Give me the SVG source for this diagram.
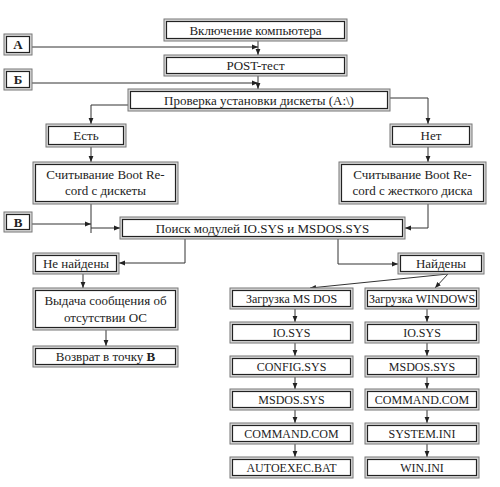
<svg xmlns="http://www.w3.org/2000/svg" width="500" height="487" viewBox="0 0 500 487">
<defs>
<marker id="ar" viewBox="0 0 8 8" refX="8" refY="4" markerWidth="6" markerHeight="6" orient="auto" markerUnits="userSpaceOnUse">
<path d="M0,0.8 L8,4 L0,7.2 Z" fill="#222"/>
</marker>
<style>
.o{fill:#dcdcdc;stroke:#777;stroke-width:1}
.i{fill:#fff;stroke:#222;stroke-width:1.2}
.t{font-family:'Liberation Serif','DejaVu Serif','Times New Roman',serif;font-size:13px;fill:#222;text-anchor:middle}
.s{font-size:12px}
.b{font-weight:bold}
.c{fill:none;stroke:#333;stroke-width:1}
.a{marker-end:url(#ar)}
</style>
</defs>
<rect width="500" height="487" fill="#fff"/>
<g id="connectors">
<path class="c a" d="M258,41 V55"/>
<path class="c a" d="M32,47 H258"/>
<path class="c a" d="M258,76 V89"/>
<path class="c a" d="M32,83 H258"/>
<path class="c a" d="M128,105 H91 V124"/>
<path class="c a" d="M390,98 H428 V124"/>
<path class="c a" d="M91,147 V162"/>
<path class="c a" d="M428,147 V162"/>
<path class="c" d="M91,204 V233"/>
<path class="c a" d="M32,224 H91"/>
<path class="c a" d="M91,228 H120"/>
<path class="c a" d="M428,204 V228 H405"/>
<path class="c a" d="M185,239 V263 H119"/>
<path class="c a" d="M338,239 V264 H398"/>
<path class="c a" d="M83,274 V288"/>
<path class="c a" d="M106,330 V346"/>
<path class="c a" d="M448,274 L310,288"/>
<path class="c a" d="M448,274 L435,288"/>
<path class="c a" d="M295,309 V322"/>
<path class="c a" d="M295,343 V356"/>
<path class="c a" d="M295,377 V389"/>
<path class="c a" d="M295,410 V423"/>
<path class="c a" d="M295,444 V457"/>
<path class="c a" d="M427,309 V322"/>
<path class="c a" d="M427,343 V356"/>
<path class="c a" d="M427,377 V389"/>
<path class="c a" d="M427,410 V423"/>
<path class="c a" d="M427,444 V457"/>
</g>
<g id="n-on"><rect class="o" x="164" y="19" width="183" height="22"/><rect class="i" x="166.5" y="21.5" width="178" height="17"/><text class="t" x="255.5" y="34.5">Включение компьютера</text></g>
<g id="n-post"><rect class="o" x="164" y="55" width="183" height="21"/><rect class="i" x="166.5" y="57.5" width="178" height="16"/><text class="t" x="255.5" y="70">POST-тест</text></g>
<g id="n-a"><rect class="o" x="4" y="34" width="28" height="21"/><rect class="i" x="6.5" y="36.5" width="23" height="16"/><text class="t b" x="18" y="49">А</text></g>
<g id="n-b"><rect class="o" x="4" y="69" width="28" height="21"/><rect class="i" x="6.5" y="71.5" width="23" height="16"/><text class="t b" x="18" y="84">Б</text></g>
<g id="n-check"><rect class="o" x="128" y="89" width="262" height="22"/><rect class="i" x="130.5" y="91.5" width="257" height="17"/><text class="t" x="259" y="104.5">Проверка установки дискеты (A:\)</text></g>
<g id="n-yes"><rect class="o" x="46" y="124" width="80" height="23"/><rect class="i" x="48.5" y="126.5" width="75" height="18"/><text class="t" x="86" y="140">Есть</text></g>
<g id="n-no"><rect class="o" x="390" y="124" width="82" height="23"/><rect class="i" x="392.5" y="126.5" width="77" height="18"/><text class="t" x="431" y="140">Нет</text></g>
<g id="n-readfd"><rect class="o" x="33" y="162" width="145" height="42"/><rect class="i" x="35.5" y="164.5" width="140" height="37"/><text class="t" x="105.5" y="179">Считывание Boot Re-</text><text class="t" x="105.5" y="195">cord с дискеты</text></g>
<g id="n-readhd"><rect class="o" x="339" y="162" width="147" height="42"/><rect class="i" x="341.5" y="164.5" width="142" height="37"/><text class="t" x="412.5" y="179">Считывание Boot Re-</text><text class="t" x="412.5" y="195">cord с жесткого диска</text></g>
<g id="n-v"><rect class="o" x="4" y="212" width="28" height="20"/><rect class="i" x="6.5" y="214.5" width="23" height="15"/><text class="t b" x="18" y="226.5">В</text></g>
<g id="n-search"><rect class="o" x="120" y="217" width="285" height="22"/><rect class="i" x="122.5" y="219.5" width="280" height="17"/><text class="t" x="262.5" y="232.5">Поиск модулей IO.SYS и MSDOS.SYS</text></g>
<g id="n-notfound"><rect class="o" x="33" y="253" width="86" height="21"/><rect class="i" x="35.5" y="255.5" width="81" height="16"/><text class="t" x="76" y="268">Не найдены</text></g>
<g id="n-found"><rect class="o" x="398" y="253" width="86" height="21"/><rect class="i" x="400.5" y="255.5" width="81" height="16"/><text class="t" x="441" y="268">Найдены</text></g>
<g id="n-msg"><rect class="o" x="33" y="288" width="145" height="42"/><rect class="i" x="35.5" y="290.5" width="140" height="37"/><text class="t" x="105.5" y="305">Выдача сообщения об</text><text class="t" x="105.5" y="322">отсутствии ОС</text></g>
<g id="n-return"><rect class="o" x="33" y="346" width="145" height="21"/><rect class="i" x="35.5" y="348.5" width="140" height="16"/><text class="t" x="105.5" y="361">Возврат в точку <tspan class="b">В</tspan></text></g>
<g id="n-dos"><rect class="o" x="230" y="288" width="123" height="21"/><rect class="i" x="232.5" y="290.5" width="118" height="16"/><text class="t s" x="291.5" y="303">Загрузка MS DOS</text></g>
<g id="n-dos-io"><rect class="o" x="230" y="322" width="123" height="21"/><rect class="i" x="232.5" y="324.5" width="118" height="16"/><text class="t s" x="291.5" y="337">IO.SYS</text></g>
<g id="n-dos-config"><rect class="o" x="230" y="356" width="123" height="21"/><rect class="i" x="232.5" y="358.5" width="118" height="16"/><text class="t s" x="291.5" y="371">CONFIG.SYS</text></g>
<g id="n-dos-msdos"><rect class="o" x="230" y="389" width="123" height="21"/><rect class="i" x="232.5" y="391.5" width="118" height="16"/><text class="t s" x="291.5" y="404">MSDOS.SYS</text></g>
<g id="n-dos-command"><rect class="o" x="230" y="423" width="123" height="21"/><rect class="i" x="232.5" y="425.5" width="118" height="16"/><text class="t s" x="291.5" y="438">COMMAND.COM</text></g>
<g id="n-dos-autoexec"><rect class="o" x="230" y="457" width="123" height="21"/><rect class="i" x="232.5" y="459.5" width="118" height="16"/><text class="t s" x="291.5" y="472">AUTOEXEC.BAT</text></g>
<g id="n-win"><rect class="o" x="365" y="288" width="114" height="21"/><rect class="i" x="367.5" y="290.5" width="109" height="16"/><text class="t s" x="422" y="303">Загрузка WINDOWS</text></g>
<g id="n-win-io"><rect class="o" x="365" y="322" width="114" height="21"/><rect class="i" x="367.5" y="324.5" width="109" height="16"/><text class="t s" x="422" y="337">IO.SYS</text></g>
<g id="n-win-msdos"><rect class="o" x="365" y="356" width="114" height="21"/><rect class="i" x="367.5" y="358.5" width="109" height="16"/><text class="t s" x="422" y="371">MSDOS.SYS</text></g>
<g id="n-win-command"><rect class="o" x="365" y="389" width="114" height="21"/><rect class="i" x="367.5" y="391.5" width="109" height="16"/><text class="t s" x="422" y="404">COMMAND.COM</text></g>
<g id="n-win-system"><rect class="o" x="365" y="423" width="114" height="21"/><rect class="i" x="367.5" y="425.5" width="109" height="16"/><text class="t s" x="422" y="438">SYSTEM.INI</text></g>
<g id="n-win-winini"><rect class="o" x="365" y="457" width="114" height="21"/><rect class="i" x="367.5" y="459.5" width="109" height="16"/><text class="t s" x="422" y="472">WIN.INI</text></g>
</svg>
